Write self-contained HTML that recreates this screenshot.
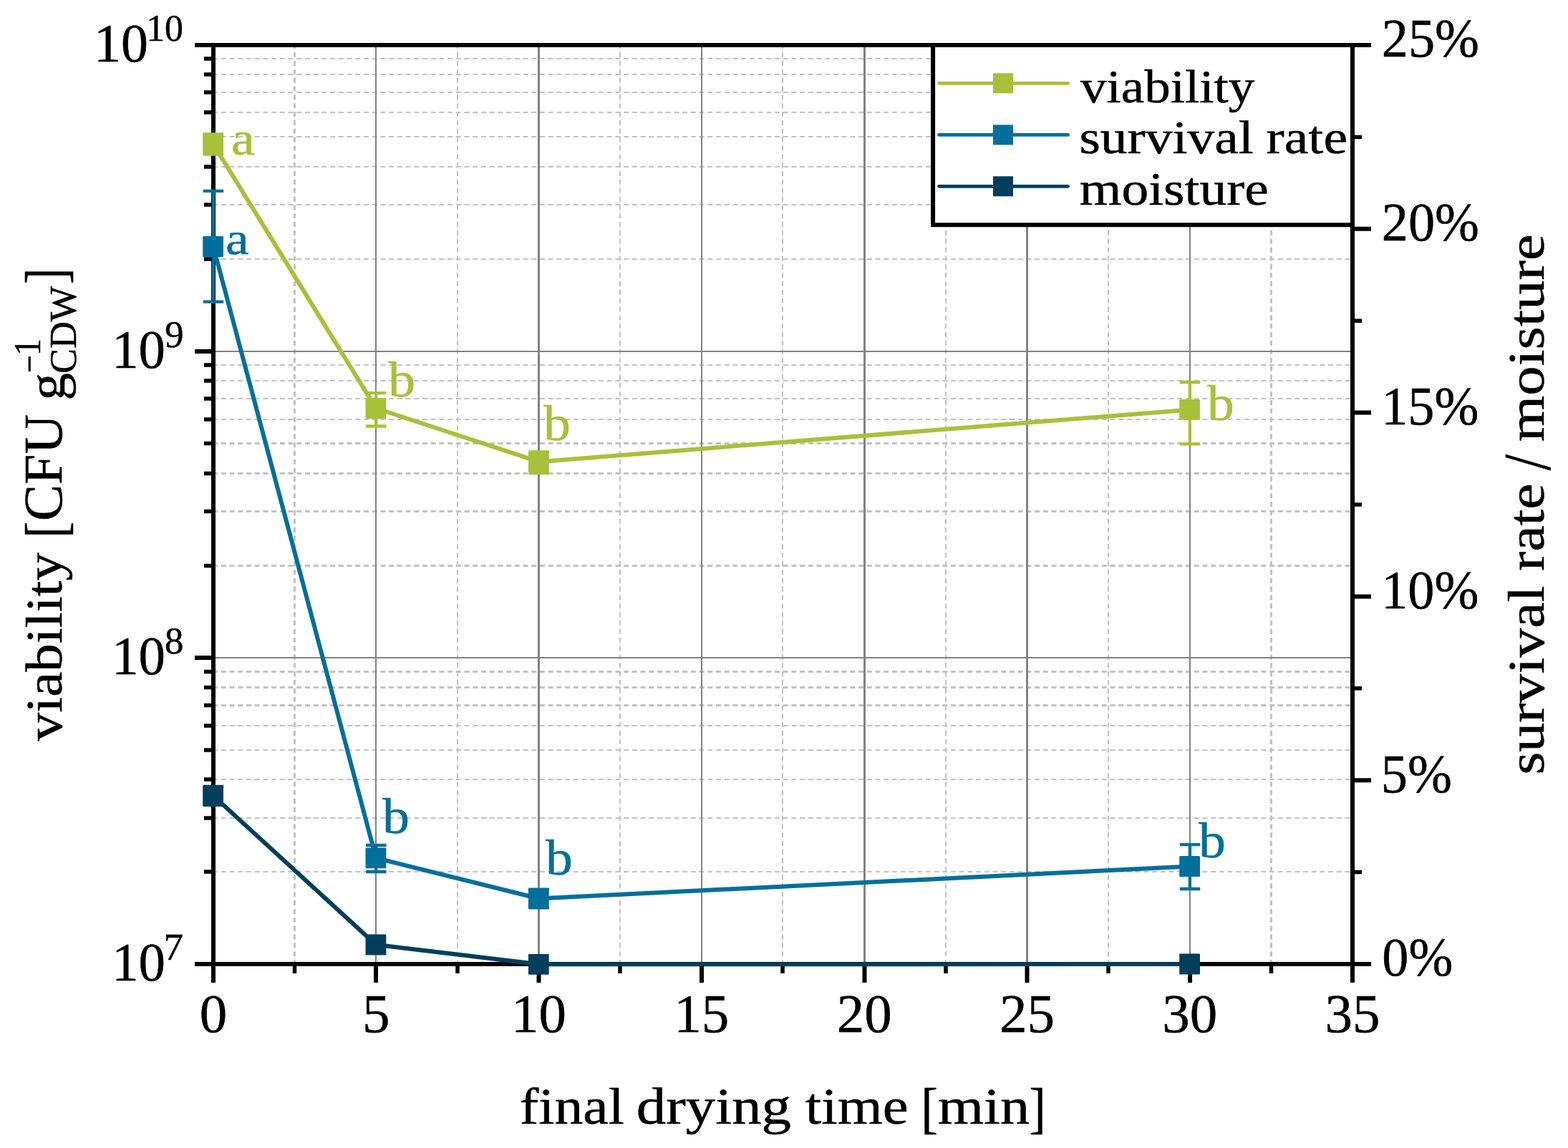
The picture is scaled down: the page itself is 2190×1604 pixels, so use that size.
<!DOCTYPE html>
<html lang="en"><head><meta charset="utf-8"><title>viability / survival rate / moisture vs final drying time</title>
<style>html,body{margin:0;padding:0;background:#fff}body{width:2190px;height:1604px;overflow:hidden}svg{display:block}text{font-family:'Liberation Serif', serif;white-space:pre;stroke-width:.5px;stroke-linejoin:round}</style>
</head><body>
<svg xmlns="http://www.w3.org/2000/svg" width="2190" height="1604" viewBox="0 0 2190 1604">
<rect width="2190" height="1604" fill="#fff"/>
<g stroke="#c2c2c2" fill="none">
<path stroke-width="2" stroke-dasharray="7.03 4.684" d="M297.1 82H1889M297.1 104H1889M297.1 129H1889M297.1 157H1889M297.1 191H1889M297.1 233H1889M297.1 286H1889M297.1 362H1889M297.1 510H1889M297.1 532H1889M297.1 557H1889M297.1 586H1889M297.1 1014H1889M297.1 1048H1889M297.1 1089H1889M297.1 1143H1889M297.1 1218H1889"/>
<path stroke-width="3" stroke-dasharray="7.03 4.684" d="M297.1 619.5H1889M297.1 661.5H1889M297.1 714.5H1889M297.1 790.5H1889M297.1 938.5H1889M297.1 960.5H1889M297.1 985.5H1889"/>
<path stroke-width="2" stroke-dasharray="7.11 4.74" d="M639 1348.1V63M866 1348.1V63M1093 1348.1V63M1321 1348.1V63M1548 1348.1V63"/>
<path stroke-width="3" stroke-dasharray="7.11 4.74" d="M411.5 1348.1V63M1775.5 1348.1V63"/>
</g>
<g stroke="#828282" fill="none">
<path stroke-width="2" d="M298 491H1889M298 919H1889M525 1347V63M980 1347V63M1662 1347V63"/>
<path stroke-width="3" d="M752.5 1347V63M1207.5 1347V63M1434.5 1347V63"/>
</g>
<g stroke="#000" fill="none">
<rect x="298" y="63" width="1591" height="1284" stroke-width="6"/>
<path stroke-width="6" d="M298 1347v26M525 1347v26M752.5 1347v26M980 1347v26M1207.5 1347v26M1434.5 1347v26M1662 1347v26M1889 1347v26M298 63h-26M298 491h-26M298 919h-26M298 1347h-26M1889 1347.0h26M1889 1090.2h26M1889 833.4h26M1889 576.6h26M1889 319.8h26M1889 63.0h26"/>
<path stroke-width="5.5" d="M411.5 1347v13M639 1347v13M866 1347v13M1093 1347v13M1321 1347v13M1548 1347v13M1775.5 1347v13M298 82h-13M298 104h-13M298 129h-13M298 157h-13M298 191h-13M298 233h-13M298 286h-13M298 362h-13M298 510h-13M298 532h-13M298 557h-13M298 586h-13M298 619.5h-13M298 661.5h-13M298 714.5h-13M298 790.5h-13M298 938.5h-13M298 960.5h-13M298 985.5h-13M298 1014h-13M298 1048h-13M298 1089h-13M298 1143h-13M298 1218h-13M1889 1218.6h13M1889 961.8h13M1889 705.0h13M1889 448.2h13M1889 191.4h13"/>
</g>
<g stroke="#a9c03a" fill="#a9c03a">
<path stroke-width="4.3" fill="none" d="M297.90 187.50V215.60M283.80 187.50h28.4M283.80 215.60h28.4M525.23 549.20V595.50M511.12 549.20h28.4M511.12 595.50h28.4M752.60 631.30V661.00M738.50 631.30h28.4M738.50 661.00h28.4M1661.90 534.00V620.40M1647.80 534.00h28.4M1647.80 620.40h28.4"/>
<polyline stroke-width="6.0" fill="none" stroke-linejoin="round" points="297.90,201.50 525.23,570.50 752.60,645.20 1661.90,572.40"/>
<rect stroke="none" x="283.20" y="187.10" width="28.8" height="28.8" rx="1.2"/>
<rect stroke="none" x="510.53" y="556.10" width="28.8" height="28.8" rx="1.2"/>
<rect stroke="none" x="737.90" y="630.80" width="28.8" height="28.8" rx="1.2"/>
<rect stroke="none" x="1647.20" y="558.00" width="28.8" height="28.8" rx="1.2"/>
</g>
<g stroke="#006f9b" fill="#006f9b">
<path stroke-width="4.3" fill="none" d="M297.90 266.90V421.70M283.80 266.90h28.4M283.80 421.70h28.4M525.23 1181.00V1218.00M511.12 1181.00h28.4M511.12 1218.00h28.4M752.60 1242.60V1268.40M738.50 1242.60h28.4M738.50 1268.40h28.4M1661.90 1180.10V1242.00M1647.80 1180.10h28.4M1647.80 1242.00h28.4"/>
<polyline stroke-width="6.0" fill="none" stroke-linejoin="round" points="297.90,344.50 525.23,1198.90 752.60,1255.50 1661.90,1210.50"/>
<rect stroke="none" x="283.20" y="330.10" width="28.8" height="28.8" rx="1.2"/>
<rect stroke="none" x="510.53" y="1184.50" width="28.8" height="28.8" rx="1.2"/>
<rect stroke="none" x="737.90" y="1241.10" width="28.8" height="28.8" rx="1.2"/>
<rect stroke="none" x="1647.20" y="1196.10" width="28.8" height="28.8" rx="1.2"/>
</g>
<g stroke="#003f5c" fill="#003f5c">
<path stroke-width="4.3" fill="none" d="M297.90 1099.00V1124.80M283.80 1099.00h28.4M283.80 1124.80h28.4"/>
<polyline stroke-width="6.0" fill="none" stroke-linejoin="round" points="297.90,1111.90 525.23,1320.00 752.60,1347.30 1661.90,1347.00"/>
<rect stroke="none" x="283.20" y="1097.50" width="28.8" height="28.8" rx="1.2"/>
<rect stroke="none" x="510.53" y="1305.60" width="28.8" height="28.8" rx="1.2"/>
<rect stroke="none" x="737.90" y="1332.90" width="28.8" height="28.8" rx="1.2"/>
<rect stroke="none" x="1647.20" y="1332.60" width="28.8" height="28.8" rx="1.2"/>
</g>
<rect x="1303.1" y="63.0" width="585.9000000000001" height="251.2" fill="#fff" stroke="#000" stroke-width="6"/>
<path d="M1311.5 116.3H1491.6" stroke="#a9c03a" stroke-width="4.7" stroke-linecap="round" fill="none"/>
<rect x="1387.00" y="102.30" width="28" height="28" fill="#a9c03a"/>
<path d="M1311.5 188.4H1491.6" stroke="#006f9b" stroke-width="4.7" stroke-linecap="round" fill="none"/>
<rect x="1387.00" y="174.40" width="28" height="28" fill="#006f9b"/>
<path d="M1311.5 260.3H1491.6" stroke="#003f5c" stroke-width="4.7" stroke-linecap="round" fill="none"/>
<rect x="1387.00" y="246.30" width="28" height="28" fill="#003f5c"/>
<g>
<text transform="translate(278.75 1442.30) scale(1.0000 1.0000)" font-size="77" fill="#000" stroke="#000">0</text>
<text transform="translate(506.04 1442.30) scale(1.0000 1.0000)" font-size="77" fill="#000" stroke="#000">5</text>
<text transform="translate(714.07 1442.30) scale(1.0000 1.0000)" font-size="77" fill="#000" stroke="#000">10</text>
<text transform="translate(941.36 1442.30) scale(1.0000 1.0000)" font-size="77" fill="#000" stroke="#000">15</text>
<text transform="translate(1168.64 1442.30) scale(1.0000 1.0000)" font-size="77" fill="#000" stroke="#000">20</text>
<text transform="translate(1395.93 1442.30) scale(1.0000 1.0000)" font-size="77" fill="#000" stroke="#000">25</text>
<text transform="translate(1623.21 1442.30) scale(1.0000 1.0000)" font-size="77" fill="#000" stroke="#000">30</text>
<text transform="translate(1850.50 1442.30) scale(1.0000 1.0000)" font-size="77" fill="#000" stroke="#000">35</text>
<text transform="translate(156.15 1370.00) scale(0.9710 1.0000)" font-size="77" fill="#000" stroke="#000">10</text>
<text transform="translate(228.40 1341.00) scale(1.0299 1.0000)" font-size="53.5" fill="#000" stroke="#000">7</text>
<text transform="translate(156.15 942.00) scale(0.9710 1.0000)" font-size="77" fill="#000" stroke="#000">10</text>
<text transform="translate(230.03 913.00) scale(0.9846 1.0000)" font-size="53.5" fill="#000" stroke="#000">8</text>
<text transform="translate(156.15 514.00) scale(0.9710 1.0000)" font-size="77" fill="#000" stroke="#000">10</text>
<text transform="translate(230.28 485.00) scale(0.9846 1.0000)" font-size="53.5" fill="#000" stroke="#000">9</text>
<text transform="translate(131.05 86.00) scale(0.9859 1.0000)" font-size="77" fill="#000" stroke="#000">10</text>
<text transform="translate(204.20 57.00) scale(0.9690 1.0000)" font-size="53.5" fill="#000" stroke="#000">10</text>
<text transform="translate(1930.31 1363.40) scale(0.9650 1.0000)" font-size="77" fill="#000" stroke="#000">0%</text>
<text transform="translate(1928.86 1106.60) scale(0.9650 1.0000)" font-size="77" fill="#000" stroke="#000">5%</text>
<text transform="translate(1929.19 849.80) scale(0.9650 1.0000)" font-size="77" fill="#000" stroke="#000">10%</text>
<text transform="translate(1929.19 593.00) scale(0.9650 1.0000)" font-size="77" fill="#000" stroke="#000">15%</text>
<text transform="translate(1929.82 336.20) scale(0.9650 1.0000)" font-size="77" fill="#000" stroke="#000">20%</text>
<text transform="translate(1929.82 79.40) scale(0.9650 1.0000)" font-size="77" fill="#000" stroke="#000">25%</text>
<text transform="translate(725.83 1570.30) scale(1.0994 1.0000)" font-size="72.5" fill="#000" stroke="#000">final</text>
<text transform="translate(888.84 1570.30) scale(1.1423 1.0000)" font-size="72.5" fill="#000" stroke="#000">drying</text>
<text transform="translate(1124.86 1570.30) scale(1.1171 1.0000)" font-size="72.5" fill="#000" stroke="#000">time</text>
<text transform="translate(1286.57 1575.02) scale(0.9688 1.0750)" font-size="72.5" fill="#000" stroke="#000">[</text>
<text transform="translate(1309.89 1570.30) scale(1.1383 1.0000)" font-size="72.5" fill="#000" stroke="#000">min</text>
<text transform="translate(1437.42 1575.02) scale(0.9538 1.0750)" font-size="72.5" fill="#000" stroke="#000">]</text>
<text transform="translate(86.30 1035.20) rotate(-90) scale(1.0893 1.0000)" font-size="72.5" fill="#000" stroke="#000">viability</text>
<text transform="translate(90.91 751.46) rotate(-90) scale(0.9375 1.0967)" font-size="72.5" fill="#000" stroke="#000">[</text>
<text transform="translate(86.30 727.97) rotate(-90) scale(1.0564 1.0521)" font-size="72.5" fill="#000" stroke="#000">CFU</text>
<text transform="translate(90.16 559.48) rotate(-90) scale(1.0614 1.0245)" font-size="72.5" fill="#000" stroke="#000">g</text>
<text transform="translate(106.30 522.07) rotate(-90) scale(1.0084 1.0000)" font-size="52" fill="#000" stroke="#000">CDW</text>
<text transform="translate(58.50 521.19) rotate(-90) scale(0.8323 1.0000)" font-size="53.5" fill="#000" stroke="#000">−</text>
<text transform="translate(55.80 496.96) rotate(-90) scale(0.8960 1.0000)" font-size="53.5" fill="#000" stroke="#000">1</text>
<text transform="translate(90.91 396.91) rotate(-90) scale(0.9231 1.0967)" font-size="72.5" fill="#000" stroke="#000">]</text>
<text transform="translate(2156.30 1082.59) rotate(-90) scale(1.1310 1.0000)" font-size="72.5" fill="#000" stroke="#000">survival</text>
<text transform="translate(2156.30 797.79) rotate(-90) scale(1.1255 1.0000)" font-size="72.5" fill="#000" stroke="#000">rate</text>
<text transform="translate(2163.94 657.30) rotate(-90) scale(1.1100 1.2742)" font-size="72.5" fill="#000" stroke="#000">/</text>
<text transform="translate(2156.30 617.32) rotate(-90) scale(1.1435 1.0000)" font-size="72.5" fill="#000" stroke="#000">moisture</text>
<text transform="translate(1509.00 142.60) scale(1.1147 1.0000)" font-size="65.5" fill="#000" stroke="#000">viability</text>
<text transform="translate(1507.43 214.40) scale(1.1531 1.0000)" font-size="65.5" fill="#000" stroke="#000">survival</text>
<text transform="translate(1768.56 214.40) scale(1.1557 1.0000)" font-size="65.5" fill="#000" stroke="#000">rate</text>
<text transform="translate(1507.66 286.10) scale(1.1530 1.0000)" font-size="65.5" fill="#000" stroke="#000">moisture</text>
<text transform="translate(322.95 216.20) scale(1.1346 1.0049)" font-size="65.5" fill="#a9c03a" stroke="#a9c03a">a</text>
<text transform="translate(314.96 355.10) scale(1.1269 0.9821)" font-size="65.5" fill="#006f9b" stroke="#006f9b">a</text>
<text transform="translate(541.90 553.70) scale(1.1636 1.0681)" font-size="65.5" fill="#a9c03a" stroke="#a9c03a">b</text>
<text transform="translate(759.10 615.00) scale(1.1570 1.0769)" font-size="65.5" fill="#a9c03a" stroke="#a9c03a">b</text>
<text transform="translate(1686.00 587.40) scale(1.1570 1.0637)" font-size="65.5" fill="#a9c03a" stroke="#a9c03a">b</text>
<text transform="translate(534.00 1163.60) scale(1.1603 1.0681)" font-size="65.5" fill="#006f9b" stroke="#006f9b">b</text>
<text transform="translate(762.10 1221.50) scale(1.1570 1.0637)" font-size="65.5" fill="#006f9b" stroke="#006f9b">b</text>
<text transform="translate(1674.10 1197.60) scale(1.1570 1.0659)" font-size="65.5" fill="#006f9b" stroke="#006f9b">b</text>
</g>
</svg>
</body></html>
